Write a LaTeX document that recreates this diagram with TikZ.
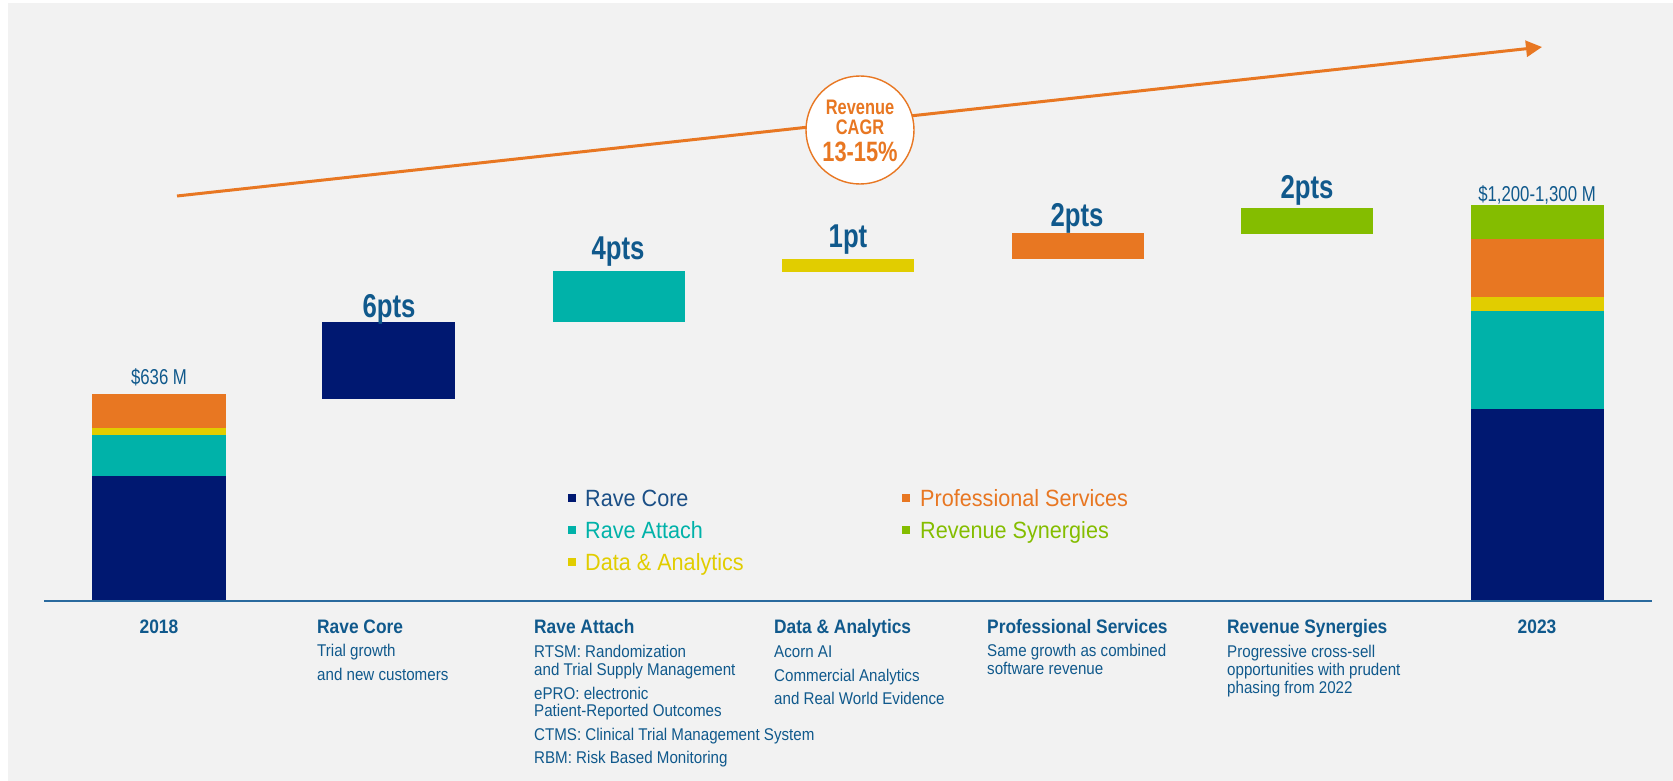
\documentclass[tikz,border=0pt]{standalone}
\usepackage{fontspec}
\setmainfont{Liberation Sans}
\newfontfamily\nar[FakeStretch=0.89]{Liberation Sans}
\newfontfamily\narb[FakeStretch=0.78]{Liberation Sans}
\newfontfamily\legf[FakeStretch=0.92]{Liberation Sans}
\usetikzlibrary{arrows.meta}
\definecolor{bg}{HTML}{F2F2F2}
\definecolor{cnavy}{HTML}{001871}
\definecolor{cteal}{HTML}{00B2A9}
\definecolor{cyel}{HTML}{E1CD00}
\definecolor{corg}{HTML}{E87722}
\definecolor{cgrn}{HTML}{84BD00}
\definecolor{tblue}{HTML}{10598C}
\definecolor{legblue}{HTML}{1B4F86}
\definecolor{axblue}{HTML}{2A6A9E}
\begin{document}
\begin{tikzpicture}[x=1pt,y=-1pt,
  lbl/.style={anchor=base west, inner sep=0, text=tblue, font=\nar\fontsize{17}{18}\selectfont},
  ttl/.style={anchor=base west, inner sep=0, text=tblue, font=\nar\bfseries\fontsize{19.5}{20}\selectfont},
  yr/.style={anchor=base, inner sep=0, text=tblue, font=\nar\bfseries\fontsize{19.5}{20}\selectfont},
  pts/.style={anchor=base, inner sep=0, text=tblue, font=\narb\bfseries\fontsize{33}{33}\selectfont},
  val/.style={anchor=base, inner sep=0, text=tblue, font=\narb\fontsize{21.5}{22}\selectfont},
  leg/.style={anchor=base west, inner sep=0, font=\legf\fontsize{23.5}{24}\selectfont},
  cagr/.style={anchor=base, inner sep=0, text=corg, font=\narb\bfseries\fontsize{21}{21}\selectfont},
]
\useasboundingbox (0,0) rectangle (1673,781);
\fill[white] (0,0) rectangle (1673,781);
\fill[bg] (8,3) rectangle (1673,781);

% growth arrow and CAGR circle
\coordinate (arrS) at (177,196);
\coordinate (arrE) at (1542,47);
\draw[corg, line width=3pt, -{Triangle[length=16pt,width=16pt]}] (arrS) -- (arrE);
\node[circle, draw=corg, line width=1.4pt, fill=white, minimum size=108pt, inner sep=0] (circ) at (860,130) {};
\node[cagr] (cg1) at (860,115) {Revenue};
\node[cagr] (cg2) at (860,135) {CAGR};
\node[cagr, font=\narb\bfseries\fontsize{28}{28}\selectfont] (cg3) at (860,161) {13-15\%};

% 2018 stacked bar
\fill[cnavy] (92,476) rectangle (226,601);
\fill[cteal] (92,435) rectangle (226,476);
\fill[cyel]  (92,428) rectangle (226,435);
\fill[corg]  (92,394) rectangle (226,428);
\node[val] (v18) at (159,384) {\$636 M};

% waterfall steps
\fill[cnavy] (322,322) rectangle (455,399);
\node[pts] (p1) at (389,317) {6pts};
\fill[cteal] (553,271) rectangle (685,322);
\node[pts] (p2) at (618,259) {4pts};
\fill[cyel] (782,259) rectangle (914,272);
\node[pts] (p3) at (848,247) {1pt};
\fill[corg] (1012,233) rectangle (1144,259);
\node[pts] (p4) at (1077,226) {2pts};
\fill[cgrn] (1241,208) rectangle (1373,234);
\node[pts] (p5) at (1307,198) {2pts};

% 2023 stacked bar
\fill[cnavy] (1471,409) rectangle (1604,601);
\fill[cteal] (1471,311) rectangle (1604,409);
\fill[cyel]  (1471,297) rectangle (1604,311);
\fill[corg]  (1471,239) rectangle (1604,297);
\fill[cgrn]  (1471,205) rectangle (1604,239);
\node[val] (v23) at (1537,201) {\$1,200-1,300 M};

% axis
\coordinate (axL) at (44,601);
\coordinate (axR) at (1652,601);
\draw[axblue, line width=2.5pt] (axL) -- (axR);

% legend
\fill[cnavy] (568,494) rectangle (576,502);
\node[leg, text=legblue] (l1) at (585,506.5) {Rave Core};
\fill[cteal] (568,526) rectangle (576,534);
\node[leg, text=cteal] (l2) at (585,538.5) {Rave Attach};
\fill[cyel] (568,558) rectangle (576,566);
\node[leg, text=cyel] (l3) at (585,570.5) {Data \& Analytics};
\fill[corg] (902,494) rectangle (910,502);
\node[leg, text=corg] (l4) at (920,506.5) {Professional Services};
\fill[cgrn] (902,526) rectangle (910,534);
\node[leg, text=cgrn] (l5) at (920,538.5) {Revenue Synergies};

% category labels
\node[yr] (y18) at (159,633) {2018};
\node[yr] (y23) at (1537,633) {2023};

\node[ttl] (rc) at (317,633) {Rave Core};
\node[lbl] (rc1) at (317,656) {Trial growth};
\node[lbl] (rc2) at (317,680) {and new customers};

\node[ttl] (ra) at (534,633) {Rave Attach};
\node[lbl] (ra1) at (534,657) {RTSM: Randomization};
\node[lbl] (ra2) at (534,675) {and Trial Supply Management};
\node[lbl] (ra3) at (534,699) {ePRO: electronic};
\node[lbl] (ra4) at (534,716) {Patient-Reported Outcomes};
\node[lbl] (ra5) at (534,740) {CTMS: Clinical Trial Management System};
\node[lbl] (ra6) at (534,763) {RBM: Risk Based Monitoring};

\node[ttl] (da) at (774,633) {Data \& Analytics};
\node[lbl] (da1) at (774,657) {Acorn AI};
\node[lbl] (da2) at (774,681) {Commercial Analytics};
\node[lbl] (da3) at (774,704) {and Real World Evidence};

\node[ttl] (ps) at (987,633) {Professional Services};
\node[lbl] (ps1) at (987,656) {Same growth as combined};
\node[lbl] (ps2) at (987,674) {software revenue};

\node[ttl] (rs) at (1227,633) {Revenue Synergies};
\node[lbl] (rs1) at (1227,657) {Progressive cross-sell};
\node[lbl] (rs2) at (1227,675) {opportunities with prudent};
\node[lbl] (rs3) at (1227,693) {phasing from 2022};
\end{tikzpicture}
\end{document}
